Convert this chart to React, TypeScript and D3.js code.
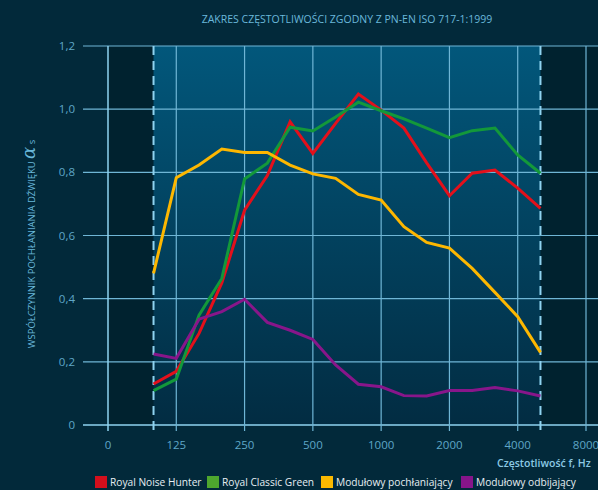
import React, { useEffect, useRef } from 'react';
import * as d3 from 'd3';

// 1/3-octave bands, 100 Hz .. 5000 Hz
const bands = ['100', '125', '160', '200', '250', '315', '400', '500', '630', '800', '1000', '1250', '1600', '2000', '2500', '3150', '4000', '5000'];
const tickLabels = ['0', '125', '250', '500', '1000', '2000', '4000', '8000'];
const yTicks = [0, 0.2, 0.4, 0.6, 0.8, 1.0, 1.2];

const noiseHunter = [0.13, 0.17, 0.29, 0.45, 0.68, 0.79, 0.96, 0.86, 0.955, 1.048, 0.997, 0.94, 0.83, 0.726, 0.797, 0.807, 0.75, 0.686];
const classicGreen = [0.109, 0.145, 0.348, 0.464, 0.779, 0.829, 0.943, 0.931, 0.975, 1.022, 0.995, 0.969, 0.94, 0.91, 0.932, 0.94, 0.855, 0.797];
const absorbing = [0.48, 0.783, 0.823, 0.874, 0.863, 0.863, 0.823, 0.795, 0.781, 0.73, 0.712, 0.628, 0.578, 0.56, 0.496, 0.42, 0.343, 0.23];
const reflecting = [0.225, 0.211, 0.335, 0.359, 0.398, 0.325, 0.3, 0.271, 0.19, 0.129, 0.121, 0.093, 0.092, 0.109, 0.109, 0.119, 0.108, 0.092];

const series = [
  { name: 'Royal Noise Hunter', values: noiseHunter, line: '#e3101b', swatch: '#d40f1c' },
  { name: 'Royal Classic Green', values: classicGreen, line: '#13983a', swatch: '#4ea72e' },
  { name: 'Modułowy pochłaniający', values: absorbing, line: '#fdb700', swatch: '#fbb900' },
  { name: 'Modułowy odbijający', values: reflecting, line: '#88168a', swatch: '#86158a' },
];

const W = 598;
const H = 490;
const FONT = '"Open Sans", "Noto Sans", sans-serif';

const App: React.FC = () => {
  const svgRef = useRef<SVGSVGElement>(null);

  useEffect(() => {
    const svg = d3.select(svgRef.current);
    svg.selectAll('*').remove();

    const left = 108;
    const top = 46;
    const bottom = 425;

    // x in third-octave steps: 0 = "0" tick, 3 = 125 Hz, ...
    const x = d3.scaleLinear().domain([0, 21]).range([left, 586]);
    const bandPos = (i: number) => x(i + 2);
    const y = d3.scaleLinear().domain([0, 1.2]).range([bottom, top]);

    svg.append('rect').attr('width', W).attr('height', H).attr('fill', '#02293a');

    const defs = svg.append('defs');
    const grad = defs.append('linearGradient')
      .attr('id', 'rangeGrad').attr('x1', 0).attr('y1', 0).attr('x2', 0).attr('y2', 1);
    grad.append('stop').attr('offset', '0%').attr('stop-color', '#02577b');
    grad.append('stop').attr('offset', '100%').attr('stop-color', '#022c42');

    // plot backgrounds
    svg.append('rect')
      .attr('x', left).attr('y', top)
      .attr('width', W - left).attr('height', bottom - top)
      .attr('fill', '#00222f');
    const x0 = bandPos(0);
    const x1 = bandPos(bands.length - 1);
    svg.append('rect')
      .attr('x', x0).attr('y', top)
      .attr('width', x1 - x0).attr('height', bottom - top)
      .attr('fill', 'url(#rangeGrad)');

    const gridColor = '#6fb6d6';

    // horizontal grid + y ticks
    svg.append('g').selectAll('line')
      .data(yTicks)
      .enter().append('line')
      .attr('x1', 83).attr('x2', W)
      .attr('y1', d => y(d)).attr('y2', d => y(d))
      .attr('stroke', d => (d === 0 ? '#8fd3f0' : gridColor))
      .attr('stroke-width', d => (d === 0 ? 1.5 : 1.2));

    svg.append('g').selectAll('text')
      .data(yTicks)
      .enter().append('text')
      .attr('x', 75).attr('y', d => y(d))
      .attr('dy', '0.35em')
      .attr('text-anchor', 'end')
      .attr('fill', '#5fa7c7')
      .attr('font-family', FONT)
      .attr('font-size', 11.5)
      .text(d => (d === 0 ? '0' : d3.format('.1f')(d).replace('.', ',')));

    // vertical grid
    svg.append('g').selectAll('line')
      .data(tickLabels)
      .enter().append('line')
      .attr('x1', (_d, i) => x(i * 3)).attr('x2', (_d, i) => x(i * 3))
      .attr('y1', top).attr('y2', bottom + 6)
      .attr('stroke', (_d, i) => (i === 0 ? '#8fd3f0' : gridColor))
      .attr('stroke-width', (_d, i) => (i === 0 ? 1.5 : 1.2));

    svg.append('g').selectAll('text')
      .data(tickLabels)
      .enter().append('text')
      .attr('x', (_d, i) => x(i * 3)).attr('y', 445)
      .attr('dy', '0.35em')
      .attr('text-anchor', 'middle')
      .attr('fill', '#5fa7c7')
      .attr('font-family', FONT)
      .attr('font-size', 11.5)
      .text(d => d);

    // dashed range limits
    [x0, x1].forEach(xx => {
      svg.append('line')
        .attr('x1', xx).attr('x2', xx)
        .attr('y1', top).attr('y2', bottom + 6)
        .attr('stroke', '#8fd3f0')
        .attr('stroke-width', 2)
        .attr('stroke-dasharray', '9,6');
    });

    // lines
    const line = d3.line<number>()
      .x((_d, i) => bandPos(i))
      .y(d => y(d));

    series.forEach(s => {
      svg.append('path')
        .datum(s.values)
        .attr('d', line)
        .attr('fill', 'none')
        .attr('stroke', s.line)
        .attr('stroke-width', 3)
        .attr('stroke-linejoin', 'miter');
    });

    // title
    svg.append('text')
      .attr('x', 347).attr('y', 19)
      .attr('dy', '0.35em')
      .attr('text-anchor', 'middle')
      .attr('fill', '#6ab8da')
      .attr('font-family', FONT)
      .attr('font-size', 10.5)
      .attr('font-weight', 500)
      .text('ZAKRES CZĘSTOTLIWOŚCI ZGODNY Z PN-EN ISO 717-1:1999');

    // y axis title
    const yt = svg.append('text')
      .attr('transform', 'translate(32,244) rotate(-90)')
      .attr('dy', '0.35em')
      .attr('text-anchor', 'middle')
      .attr('fill', '#6ab8da')
      .attr('font-family', FONT)
      .attr('font-size', 9.5);
    yt.append('tspan').text('WSPÓŁCZYNNIK POCHŁANIANIA DŹWIĘKU ');
    yt.append('tspan')
      .attr('font-family', '"DejaVu Serif", serif')
      .attr('font-style', 'italic')
      .attr('font-size', 18)
      .text('α');
    yt.append('tspan').text(' s');

    // x axis title
    svg.append('text')
      .attr('x', 497).attr('y', 463)
      .attr('dy', '0.35em')
      .attr('fill', '#8cc9e4')
      .attr('font-family', FONT)
      .attr('font-size', 10.5)
      .attr('font-weight', 600)
      .text('Częstotliwość f, Hz');

    // legend
    const legendX = [95, 207, 321, 461];
    const legend = svg.append('g').selectAll('g')
      .data(series)
      .enter().append('g')
      .attr('transform', (_d, i) => `translate(${legendX[i]}, 476)`);
    legend.append('rect')
      .attr('width', 12).attr('height', 12)
      .attr('fill', d => d.swatch);
    legend.append('text')
      .attr('x', 15).attr('y', 6)
      .attr('dy', '0.35em')
      .attr('fill', '#e6eef2')
      .attr('font-family', FONT)
      .attr('font-size', 10.2)
      .text(d => d.name);
  }, []);

  return (
    <div style={{ position: 'absolute', left: 0, top: 0 }}>
      <svg ref={svgRef} width={W} height={H} style={{ display: 'block' }}></svg>
    </div>
  );
};

export default App;
